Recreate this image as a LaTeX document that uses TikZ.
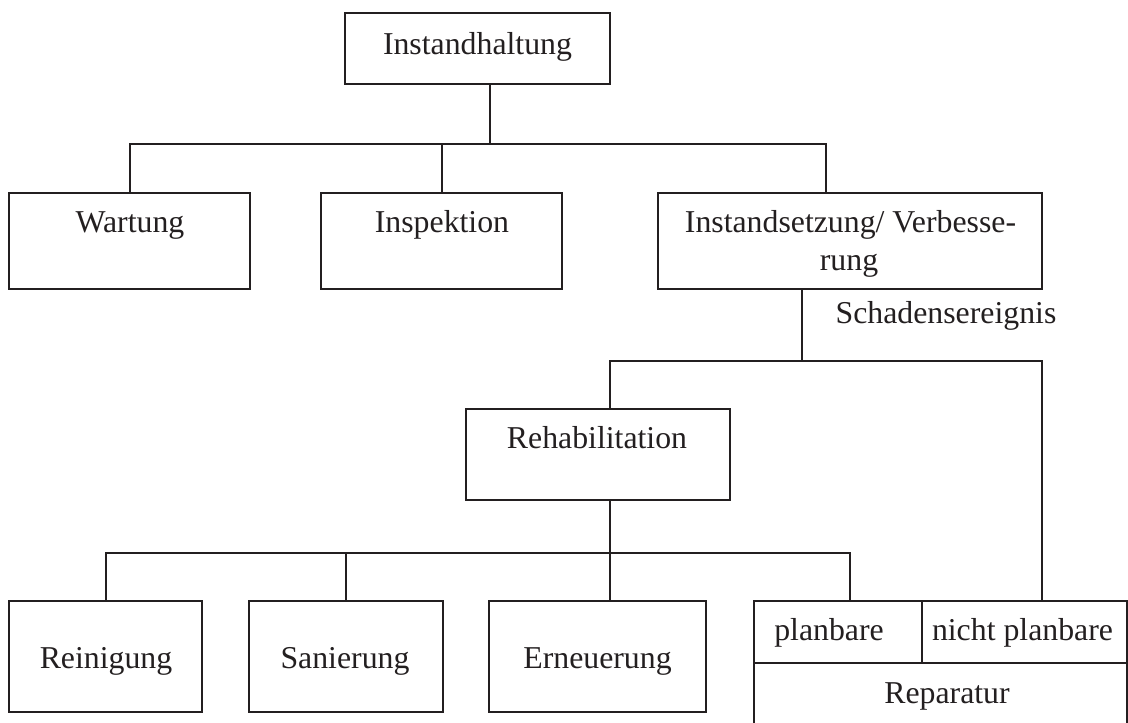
\documentclass[tikz,border=0pt]{standalone}
\usepackage{fontspec}
\setmainfont{Liberation Serif}
\definecolor{ink}{HTML}{231F20}
\begin{document}
\begin{tikzpicture}[x=1pt,y=-1pt,
  box/.style={draw=ink, line width=2pt, inner sep=0pt, outer sep=0pt, rectangle},
  lbl/.style={text=ink, inner sep=0pt, anchor=base, font=\fontsize{31.8}{38}\selectfont},
  conn/.style={draw=ink, line width=2pt}]
\useasboundingbox (0,0) rectangle (1128,723);
\clip (0,0) rectangle (1128,723);
% boxes
\node[box, minimum width=265pt, minimum height=71pt] (top) at (477.5,48.5) {};
\node[box, minimum width=241pt, minimum height=96pt] (wart) at (129.5,241) {};
\node[box, minimum width=241pt, minimum height=96pt] (insp) at (441.5,241) {};
\node[box, minimum width=384pt, minimum height=96pt] (inst) at (850,241) {};
\node[box, minimum width=264pt, minimum height=91pt] (reha) at (598,454.5) {};
\node[box, minimum width=193pt, minimum height=111pt] (rein) at (105.5,656.5) {};
\node[box, minimum width=194pt, minimum height=111pt] (sani) at (346,656.5) {};
\node[box, minimum width=217pt, minimum height=111pt] (erne) at (597.5,656.5) {};
\node[box, minimum width=168pt, minimum height=62pt] (plan) at (838,632) {};
\node[box, minimum width=205pt, minimum height=62pt] (nplan) at (1024.5,632) {};
\node[box, minimum width=373pt, minimum height=97pt] (rep) at (940.5,711.5) {};
% texts
\node[lbl] (topT) at (477.5,54) {Instandhaltung};
\node[lbl] (wartT) at (130,232) {Wartung};
\node[lbl] (inspT) at (442,232) {Inspektion};
\node[lbl] (instT1) at (850.5,232) {Instandsetzung/ Verbesse-};
\node[lbl] (instT2) at (849,270) {rung};
\node[lbl] (schad) at (946,323) {Schadensereignis};
\node[lbl] (rehaT) at (597,448) {Rehabilitation};
\node[lbl] (reinT) at (106,668) {Reinigung};
\node[lbl] (saniT) at (345,668) {Sanierung};
\node[lbl] (erneT) at (597.5,668) {Erneuerung};
\node[lbl] (planT) at (829,640) {planbare};
\node[lbl] (nplanT) at (1022.5,640) {nicht planbare};
\node[lbl] (repT) at (947,703) {Reparatur};
% bus coordinates
\coordinate (b1) at (490,144);
\coordinate (b1l) at (129.5,144);
\coordinate (b1r) at (826,144);
\coordinate (b2) at (802,361);
\coordinate (b2l) at (610,361);
\coordinate (b2r) at (1042,361);
\coordinate (b3) at (610,553);
\coordinate (b3l) at (106,553);
\coordinate (b3r) at (850,553);
% connectors
\draw[conn] (top.south -| b1) -- (b1);
\draw[conn] (wart.north -| b1l) -- (b1l) -- (b1r) -- (inst.north -| b1r);
\draw[conn] (insp.north) -- (insp.north |- b1);
\draw[conn] (inst.south -| b2) -- (b2);
\draw[conn] (reha.north -| b2l) -- (b2l) -- (b2r) -- (nplan.north -| b2r);
\draw[conn] (reha.south -| b3) -- (erne.north -| b3);
\draw[conn] (rein.north -| b3l) -- (b3l) -- (b3r) -- (plan.north -| b3r);
\draw[conn] (sani.north) -- (sani.north |- b3);
\end{tikzpicture}
\end{document}
